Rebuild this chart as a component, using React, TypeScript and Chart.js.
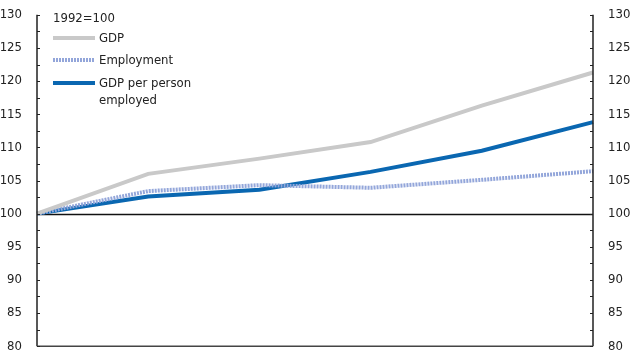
import React, { useEffect, useRef } from "react";
import { Chart, registerables } from "chart.js";

Chart.register(...registerables);

const years = ["1992", "1993", "1994", "1995", "1996", "1997"];
const gdp = [100, 106.0, 108.3, 110.8, 116.3, 121.3];
const employment = [100, 103.4, 104.3, 103.9, 105.1, 106.4];
const gdpPerPerson = [100, 102.6, 103.6, 106.3, 109.5, 113.8];
const yTicks = [80, 85, 90, 95, 100, 105, 110, 115, 120, 125, 130];

const FONT = '"Liberation Sans Narrow", "Arial Narrow", "DejaVu Sans Condensed", sans-serif';
const GRAY = "#c9c9c9";
const LAV = "#93a6da";
const BLUE = "#0a67b1";

const axesPlugin = {
  id: "axesPlugin",
  beforeDatasetsDraw(chart: any) {
    const { ctx, chartArea } = chart;
    const y = chart.scales.y;
    ctx.save();
    // baseline at 100
    ctx.strokeStyle = "#111";
    ctx.lineWidth = 1.3;
    const p = Math.round(y.getPixelForValue(100)) + 0.5;
    ctx.beginPath();
    ctx.moveTo(chartArea.left, p);
    ctx.lineTo(chartArea.right, p);
    ctx.stroke();
    ctx.restore();
  },
  afterDraw(chart: any) {
    const { ctx, chartArea } = chart;
    const y = chart.scales.y;
    ctx.save();
    ctx.strokeStyle = "#222";
    ctx.lineWidth = 1.5;
    // left & right axis lines
    ctx.beginPath();
    ctx.moveTo(chartArea.left, chartArea.top);
    ctx.lineTo(chartArea.left, chartArea.bottom);
    ctx.moveTo(chartArea.right, chartArea.top);
    ctx.lineTo(chartArea.right, chartArea.bottom);
    ctx.stroke();
    // bottom axis
    ctx.strokeStyle = "#444";
    ctx.lineWidth = 1.5;
    ctx.beginPath();
    ctx.moveTo(chartArea.left, chartArea.bottom);
    ctx.lineTo(chartArea.right, chartArea.bottom);
    ctx.stroke();
    // ticks (inward)
    ctx.strokeStyle = "#222";
    ctx.lineWidth = 1.2;
    const min = yTicks[0];
    const max = yTicks[yTicks.length - 1];
    for (let v = min; v <= max; v += 2.5) {
      const py = Math.round(y.getPixelForValue(v)) + 0.5;
      const len = 3;
      ctx.beginPath();
      ctx.moveTo(chartArea.left, py);
      ctx.lineTo(chartArea.left + len, py);
      ctx.moveTo(chartArea.right, py);
      ctx.lineTo(chartArea.right - len, py);
      ctx.stroke();
    }
    ctx.restore();
  },
};

export default function App() {
  const ref = useRef<HTMLCanvasElement>(null);
  useEffect(() => {
    if (!ref.current) return;
    const tickFont = { family: FONT, size: 13 };
    const chart = new Chart(ref.current, {
      type: "line",
      data: {
        labels: years,
        datasets: [
          {
            label: "GDP",
            data: gdp,
            borderColor: GRAY,
            borderWidth: 4,
            pointRadius: 0,
            tension: 0,
          },
          {
            label: "Employment",
            data: employment,
            borderColor: LAV,
            borderWidth: 4,
            borderDash: [2, 1],
            pointRadius: 0,
            tension: 0,
          },
          {
            label: "GDP per person employed",
            data: gdpPerPerson,
            borderColor: BLUE,
            borderWidth: 4,
            pointRadius: 0,
            tension: 0,
          },
        ],
      },
      options: {
        animation: false,
        responsive: false,
        maintainAspectRatio: false,
        layout: { padding: { top: 10, left: 0, right: 0, bottom: 0 } },
        plugins: { legend: { display: false }, tooltip: { enabled: false } },
        scales: {
          x: {
            display: true,
            offset: false,
            grid: { display: false },
            border: { display: false },
            ticks: { display: false },
            afterFit: (s: any) => {
              s.height = 13;
            },
          },
          y: {
            position: "left",
            min: 80,
            max: 130,
            grid: { display: false },
            border: { display: false },
            ticks: {
              stepSize: 5,
              padding: 7,
              color: "#222",
              font: tickFont,
              autoSkip: false,
            },
            afterFit: (s: any) => {
              s.width = 37;
            },
          },
          y2: {
            position: "right",
            min: 80,
            max: 130,
            grid: { display: false },
            border: { display: false },
            ticks: {
              stepSize: 5,
              padding: 7,
              color: "#222",
              font: tickFont,
              autoSkip: false,
            },
            afterFit: (s: any) => {
              s.width = 40;
            },
          },
        },
      },
      plugins: [axesPlugin],
    });
    return () => chart.destroy();
  }, []);

  const labelStyle: React.CSSProperties = {
    position: "absolute",
    fontFamily: FONT,
    fontSize: 13,
    color: "#222",
    lineHeight: "17px",
    whiteSpace: "nowrap",
  };
  const sample = (top: number, color: string, dotted = false): React.CSSProperties => ({
    position: "absolute",
    left: 53,
    top: top - 2,
    width: 42,
    height: 4,
    background: dotted
      ? `repeating-linear-gradient(90deg, ${color} 0 2px, transparent 2px 3px)`
      : color,
  });

  return (
    <div style={{ position: "fixed", left: 0, top: 0, width: 633, height: 361, background: "#fff" }}>
      <canvas ref={ref} width={633} height={361} style={{ display: "block" }} />
      <div style={{ ...labelStyle, left: 53, top: 9 }}>1992=100</div>
      <div style={sample(38, GRAY)} />
      <div style={{ ...labelStyle, left: 99, top: 29 }}>GDP</div>
      <div style={sample(60, LAV, true)} />
      <div style={{ ...labelStyle, left: 99, top: 51 }}>Employment</div>
      <div style={sample(83, BLUE)} />
      <div style={{ ...labelStyle, left: 99, top: 74 }}>
        GDP per person
        <br />
        employed
      </div>
    </div>
  );
}
